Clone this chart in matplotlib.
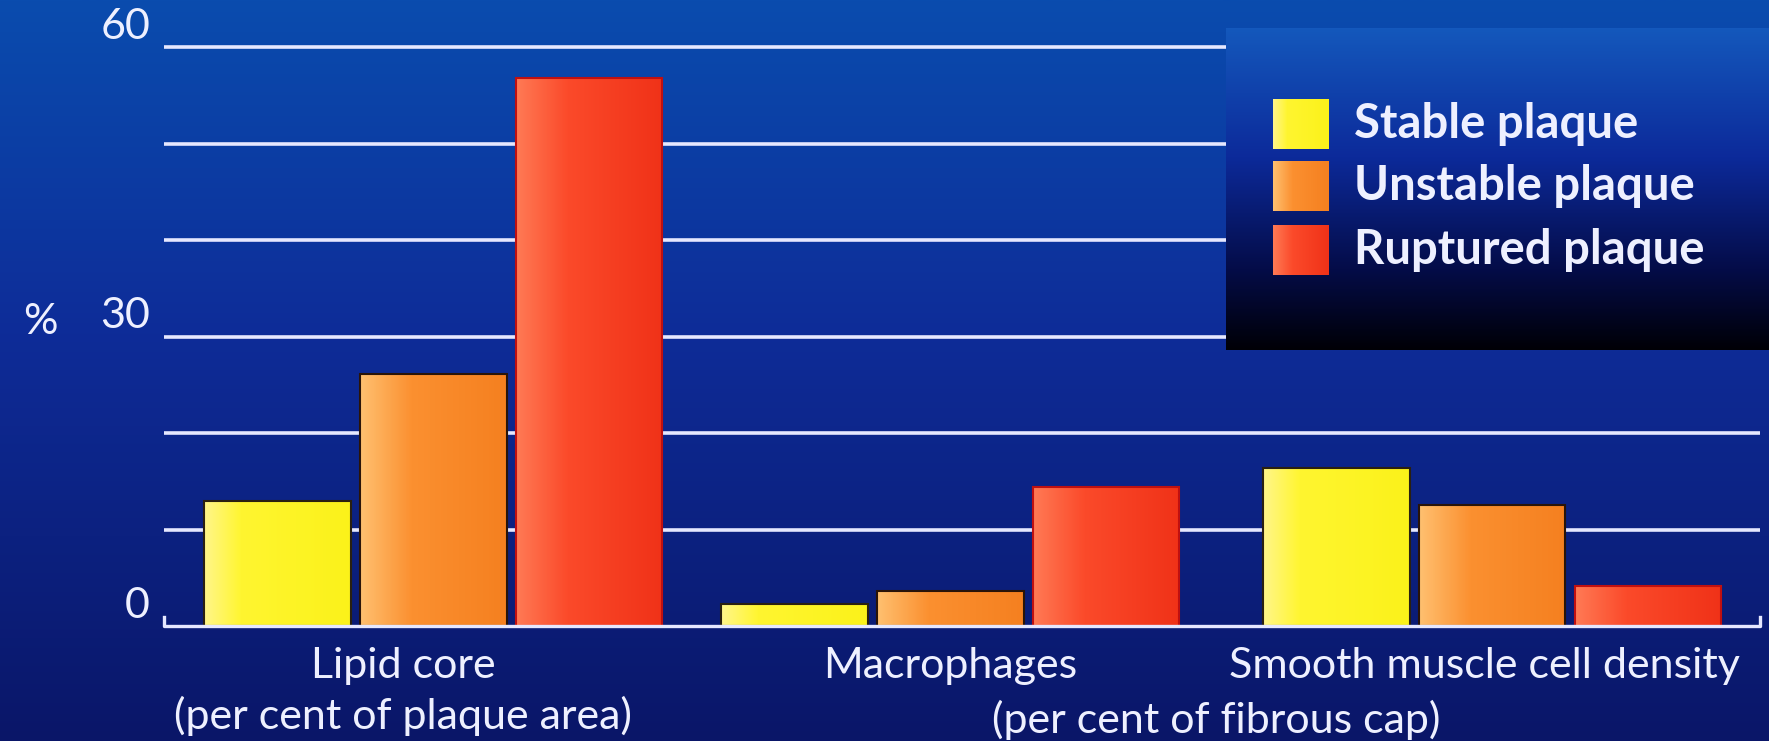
import numpy as np
import matplotlib.pyplot as plt
from matplotlib.patches import Rectangle
from matplotlib.colors import LinearSegmentedColormap

# data
categories = ["Lipid core", "Macrophages", "Smooth muscle cell density"]
series = ["Stable plaque", "Unstable plaque", "Ruptured plaque"]
stable = [13.0, 2.3, 16.4]
unstable = [26.1, 3.6, 12.5]
ruptured = [56.8, 14.4, 4.1]
yticks = [0, 30, 60]
grid_vals = [0, 10, 20, 30, 40, 50, 60]

W, H = 1769, 741
fig = plt.figure(figsize=(W / 100, H / 100), dpi=100)
plt.rcParams['font.family'] = ['Lato', 'DejaVu Sans']

def fx(px):
    return px / W

def fy(py):
    return 1 - py / H

# background gradient
bg = fig.add_axes([0, 0, 1, 1], zorder=0)
bg_cmap = LinearSegmentedColormap.from_list("bg", [(0.0, "#0a4cae"), (0.45, "#0e2c98"), (1.0, "#0a1668")])
bg.imshow(np.linspace(0, 1, 256).reshape(-1, 1), aspect="auto", cmap=bg_cmap, extent=(0, 1, 0, 1))
bg.set_axis_off()

# main axes
x0, x1 = 164, 1760
y0, y1 = 626, 47
ax = fig.add_axes([fx(x0), fy(y0), fx(x1 - x0), (y0 - y1) / H], zorder=1)
ax.patch.set_alpha(0)
for s in ax.spines.values():
    s.set_visible(False)
ax.set_xticks([])
ax.set_yticks([])

xl = (-1.73, 8.52)
centers = [0.0, 3.32, 6.80]
bw = 0.94

for g in grid_vals[1:]:
    ax.plot(xl, [g, g], color="#e6e8ff", lw=2.6, zorder=1, clip_on=False, solid_capstyle="butt")
# base axis with end ticks
ax.plot([xl[0], xl[0], xl[1], xl[1]], [0.9, 0, 0, 0.9], color="#e6e8ff", lw=2.4, zorder=5, clip_on=False)

bar_cmaps = [
    LinearSegmentedColormap.from_list("y", [(0, "#fff68a"), (0.25, "#fff530"), (1, "#fbf21a")]),
    LinearSegmentedColormap.from_list("o", [(0, "#ffc070"), (0.35, "#fb9030"), (1, "#f58020")]),
    LinearSegmentedColormap.from_list("r", [(0, "#ff7a55"), (0.35, "#fb4a2a"), (1, "#f03218")]),
]
edge_cols = ["#2a2010", "#2a1408", "#c01010"]
grad = np.linspace(0, 1, 128).reshape(1, -1)

for i, vals in enumerate([stable, unstable, ruptured]):
    for c, v in zip(centers, vals):
        left = c + (i - 1) * 1.0 - bw / 2
        ax.imshow(grad, cmap=bar_cmaps[i], aspect="auto", extent=(left, left + bw, 0, v), zorder=3)
        ax.add_patch(Rectangle((left, 0), bw, v, fill=False, ec=edge_cols[i], lw=1.5, zorder=4))

ax.set_xlim(*xl)
ax.set_ylim(0, 60)

# y labels
txt = dict(color="#eef0ff", fontsize=31)
for t in yticks:
    py = y0 - (y0 - y1) * t / 60 - 20
    fig.text(fx(150), fy(py), str(t), ha="right", va="center", **txt)
fig.text(fx(40), fy(322), "%", ha="center", va="center", **txt)

# category labels
fig.text(fx(403), fy(666), categories[0], ha="center", va="center", **txt)
fig.text(fx(403), fy(716), "(per cent of plaque area)", ha="center", va="center", **txt)
fig.text(fx(950), fy(666), categories[1], ha="center", va="center", **txt)
fig.text(fx(1484), fy(666), categories[2], ha="center", va="center", **txt)
fig.text(fx(1216), fy(720), "(per cent of fibrous cap)", ha="center", va="center", **txt)

# legend box
lx0, lx1, ly0, ly1 = 1226, 1769, 28, 350
lg = fig.add_axes([fx(lx0), fy(ly1), fx(lx1 - lx0), (ly1 - ly0) / H], zorder=2)
lg_cmap = LinearSegmentedColormap.from_list("lg", [(0, "#1458bc"), (0.4, "#0c2a9a"), (0.75, "#040c48"), (1, "#000006")])
lg.imshow(np.linspace(0, 1, 256).reshape(-1, 1), aspect="auto", cmap=lg_cmap, extent=(lx0, lx1, ly1, ly0))
lg.set_axis_off()
for i, name in enumerate(series):
    yc = [124, 186, 250][i]
    lg.imshow(grad, cmap=bar_cmaps[i], aspect="auto", extent=(1273, 1329, yc + 25, yc - 25), zorder=3)
    lg.text(1354, yc, name, color="#eef0ff", fontsize=34, fontweight="bold", va="center", ha="left")
lg.set_xlim(lx0, lx1)
lg.set_ylim(ly1, ly0)

fig.savefig("out.png", dpi=100)
